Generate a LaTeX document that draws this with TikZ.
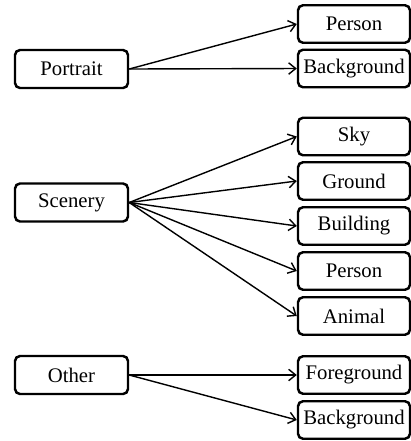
\documentclass[tikz,border=0pt]{standalone}
\usepackage{fontspec}
\setmainfont{Liberation Serif}
\usetikzlibrary{arrows.meta}

\begin{document}
\begin{tikzpicture}[x=0.02cm,y=-0.02cm,
    catbox/.style={draw,line width=1.4pt,rounded corners=0.1cm,minimum width=2.26cm,minimum height=0.76cm,inner sep=0pt,font=\fontsize{11.8}{14}\selectfont},
    partbox/.style={catbox,minimum width=2.24cm,minimum height=0.75cm},
    link/.style={line width=0.8pt,-{Straight Barb[length=4pt,width=6.5pt,line width=0.8pt]}}]
    \useasboundingbox (0,0) rectangle (411,441);

    % left column
    \node[catbox] (portrait) at (71.5,69) {Portrait};
    \node[catbox] (scenery) at (71.5,202.5) {Scenery};
    \node[catbox] (other) at (71.5,375) {Other};

    % right column
    \node[partbox] (pperson) at (354,24) {Person};
    \node[partbox] (pback) at (354,68.5) {Background};

    \node[partbox] (sky) at (354,136.5) {Sky};
    \node[partbox] (ground) at (354,181) {Ground};
    \node[partbox] (building) at (354,226) {Building};
    \node[partbox] (sperson) at (354,271) {Person};
    \node[partbox] (animal) at (354,316) {Animal};

    \node[partbox] (fore) at (354,375) {Foreground};
    \node[partbox] (oback) at (354,420) {Background};

    % arrows
    \draw[link] (portrait.east) -- (pperson.west);
    \draw[link] (portrait.east) -- (pback.west);

    \foreach \t in {sky,ground,building,sperson,animal}
        \draw[link] (scenery.east) -- (\t.west);

    \draw[link] (other.east) -- (fore.west);
    \draw[link] (other.east) -- (oback.west);
\end{tikzpicture}
\end{document}
